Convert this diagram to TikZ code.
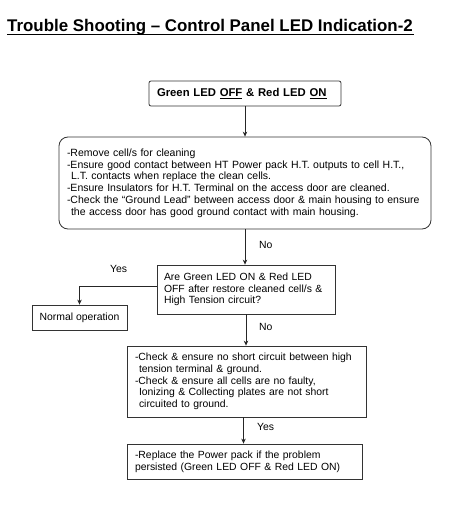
\documentclass[tikz,border=0pt]{standalone}
\usepackage{fontspec}
\setmainfont{Liberation Sans}
\usetikzlibrary{arrows.meta}
\begin{document}
\begin{tikzpicture}[x=1pt,y=-1pt,
  box/.style={draw=black!80,line width=0.8pt,align=left,inner ysep=0pt,
    font=\fontsize{10.4}{11.7}\selectfont},
  arr/.style={draw=black!85,line width=0.8pt,-{Stealth[length=5pt,width=4.5pt]}},
  lbl/.style={anchor=west,inner sep=0pt,font=\fontsize{10.4}{11.7}\selectfont}]
\useasboundingbox[fill=white] (0,0) rectangle (451,519);
% title
\node[anchor=base west,inner sep=0pt,font=\bfseries\fontsize{16.9}{18}\selectfont] (title) at (7,31.5)
  {Trouble Shooting – Control Panel LED Indication-2};
\draw[line width=1.3pt] (title.base west) ++(0,2.8) -- ++(407,0);
% boxes
\node[box,rounded corners=2pt,minimum width=192,minimum height=25,text width=176,inner xsep=8,
  font=\bfseries\fontsize{11.3}{12}\selectfont] (b1) at (245,93.5)
  {Green LED \underline{OFF} \& Red LED \underline{ON}};
\node[box,rounded corners=9pt,minimum width=372,minimum height=92,text width=356,inner xsep=8,
  font=\fontsize{10.5}{11.8}\selectfont] (b2) at (245,183)
  {-Remove cell/s for cleaning\\
   -Ensure good contact between HT Power pack H.T. outputs to cell H.T.,\\
   \hspace*{4pt}L.T. contacts when replace the clean cells.\\
   -Ensure Insulators for H.T. Terminal on the access door are cleaned.\\
   -Check the “Ground Lead” between access door \& main housing to ensure\\
   \hspace*{4pt}the access door has good ground contact with main housing.};
\node[box,minimum width=178,minimum height=49,text width=164,inner xsep=7] (dec) at (246,289.5)
  {Are Green LED ON \& Red LED\\
   OFF after restore cleaned cell/s \&\\
   High Tension circuit?};
\node[box,minimum width=95,minimum height=25,align=center,inner xsep=2] (norm) at (79.5,317.5)
  {Normal operation};
\node[box,minimum width=239,minimum height=71,text width=223,inner xsep=8] (b4) at (246.5,381.5)
  {-Check \& ensure no short circuit between high\\
   \hspace*{4pt}tension terminal \& ground.\\
   -Check \& ensure all cells are no faulty,\\
   \hspace*{4pt}Ionizing \& Collecting plates are not short\\
   \hspace*{4pt}circuited to ground.};
\node[box,minimum width=235,minimum height=35,text width=219,inner xsep=8] (b5) at (244.5,461.5)
  {-Replace the Power pack if the problem\\
   persisted (Green LED OFF \& Red LED ON)};
% connectors
\draw[arr] (b1.south) -- (b1.south |- b2.north);
\draw[arr] (b2.south) -- (b2.south |- dec.north);
\draw[arr] (dec.south) -- (dec.south |- b4.north);
\draw[arr] ([xshift=-3pt]b4.south) -- ([xshift=-3pt]b4.south |- b5.north);
\draw[arr] ([yshift=3.5pt]dec.west) -| (norm.north);
% labels
\node[lbl] (no1) at (259,245) {No};
\node[lbl] (yes1) at (110,269) {Yes};
\node[lbl] (no2) at (259,327) {No};
\node[lbl] (yes2) at (257,427) {Yes};
\end{tikzpicture}
\end{document}
